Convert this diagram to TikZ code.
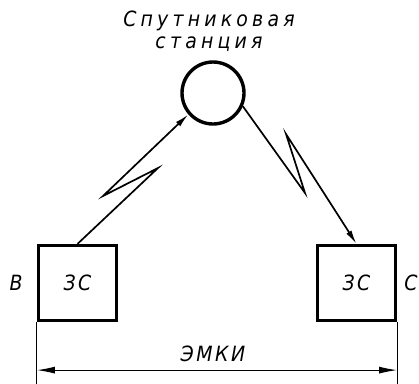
\documentclass[tikz,border=0pt]{standalone}
\usepackage{fontspec}
\newfontfamily\gost[LetterSpace=12]{DejaVu Sans Condensed}
\usetikzlibrary{arrows.meta,calc}

\begin{document}
\begin{tikzpicture}[x=1pt, y=-1pt,
  stn/.style={draw, rectangle, line width=3.2pt, minimum width=78pt, minimum height=75pt, inner sep=0pt, font=\gost\itshape\fontsize{21}{21}\selectfont},
  sat/.style={draw, circle, line width=3.4pt, minimum size=62pt, inner sep=0pt},
  radio/.style={-{Latex[length=14pt, width=6pt]}, line width=1.7pt, line join=miter},
  dim/.style={line width=1.1pt},
  dimarr/.style={{Latex[length=18pt, width=7pt]}-{Latex[length=18pt, width=7pt]}, line width=1.1pt},
  lbl/.style={font=\gost\itshape\fontsize{21}{22}\selectfont, inner sep=0pt}
]
\useasboundingbox (0,0) rectangle (419,383);

\node[sat] (sputnik) at (213,93) {};
\node[lbl, align=center, font=\gost\itshape\addfontfeature{LetterSpace=20}\fontsize{21}{22}\selectfont] (title) at (209,31) {Спутниковая\\станция};

\node[stn] (zsb) at (77.5,283) {ЗС};
\node[stn] (zsc) at (356.5,283) {ЗС};
\node[lbl] (b) at (16,283) {В};
\node[lbl] (c) at (411,283) {С};

% radio links with lightning mark
\coordinate (bz1) at (158,168);
\coordinate (bz2) at (103,196);
\draw[radio] (zsb.north) -- (bz1) -- (bz2) -- (sputnik.221);
\coordinate (cz1) at (305,193);
\coordinate (cz2) at (286,134);
\draw[radio] (sputnik.336) -- (cz1) -- (cz2) -- (zsc.north);

% dimension
\draw[dim] (zsb.south west) -- ++(0,62) coordinate (bl);
\draw[dim] (zsc.south east) -- ++(0,62) coordinate (cl);
\coordinate (da) at ($(zsb.south west)+(0,48)$);
\coordinate (dc) at ($(zsc.south east)+(0,48)$);
\draw[dimarr] (da) -- (dc);
\node[lbl] (emki) at (213,354) {ЭМКИ};
\end{tikzpicture}
\end{document}
